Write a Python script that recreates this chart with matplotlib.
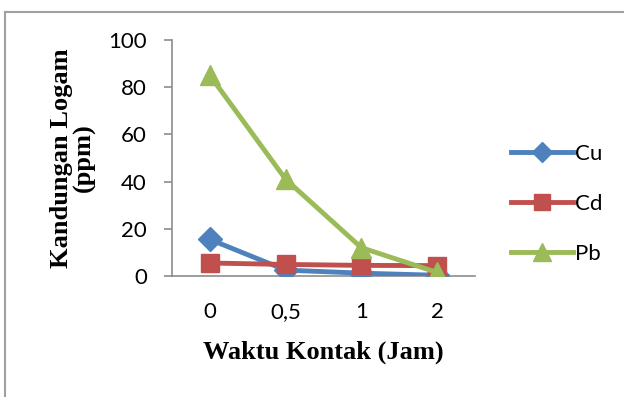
import matplotlib.pyplot as plt
from matplotlib.lines import Line2D

# data
waktu = ["0", "0,5", "1", "2"]
cu = [15.5, 2.5, 1.2, 0.3]
cd = [5.5, 4.9, 4.5, 4.4]
pb = [85, 41, 12, 1.5]

fig = plt.figure(figsize=(6.24, 3.97), dpi=100)
ax = fig.add_axes([172 / 624, 1 - 276 / 397, 303 / 624, 236 / 397])

x = range(len(waktu))
lw = 3.5
ax.plot(x, cu, color="#4F81BD", lw=lw, marker="D", ms=12, label="Cu", zorder=3)
ax.plot(x, cd, color="#C0504D", lw=lw, marker="s", ms=13, label="Cd", zorder=4)
ax.plot(x, pb, color="#9BBB59", lw=lw, marker="^", ms=15, label="Pb", zorder=5)

ax.set_xlim(-0.5, 3.5)
ax.set_ylim(0, 100)
ax.set_yticks([0, 20, 40, 60, 80, 100])
ax.set_xticks(list(x))
ax.set_xticklabels(waktu)

for s in ["top", "right"]:
    ax.spines[s].set_visible(False)
ax.spines["left"].set_color("#8c8c8c")
ax.spines["bottom"].set_color("#8c8c8c")
ax.spines["left"].set_linewidth(1.2)
ax.spines["bottom"].set_linewidth(1.2)
ax.tick_params(axis="y", length=6, color="#8c8c8c", width=1.2, labelsize=16, pad=12)
ax.tick_params(axis="x", length=0, labelsize=16, pad=19)
for t in ax.get_xticklabels() + ax.get_yticklabels():
    t.set_family("Lato")

ax.set_xlabel("Waktu Kontak (Jam)", family="Liberation Serif", weight="bold",
              fontsize=19, labelpad=13)
ax.set_ylabel("Kandungan Logam\n(ppm)", family="Liberation Serif", weight="bold",
              fontsize=19, linespacing=1.0)
ax.yaxis.set_label_coords(-0.25, 0.5)

leg = fig.legend(loc="center left", bbox_to_anchor=(491 / 624, 1 - 204 / 397),
                 frameon=False, prop={"family": "Lato", "size": 16},
                 handlelength=2.8, handletextpad=0.1, labelspacing=1.35,
                 markerscale=0.85)

# outer frame
fig.add_artist(Line2D([5 / 624, 5 / 624], [0, 1 - 12 / 397], color="#a0a0a0", lw=1.5))
fig.add_artist(Line2D([5 / 624, 1], [1 - 12 / 397, 1 - 12 / 397], color="#a0a0a0", lw=1.5))

fig.savefig("out.png", dpi=100)
